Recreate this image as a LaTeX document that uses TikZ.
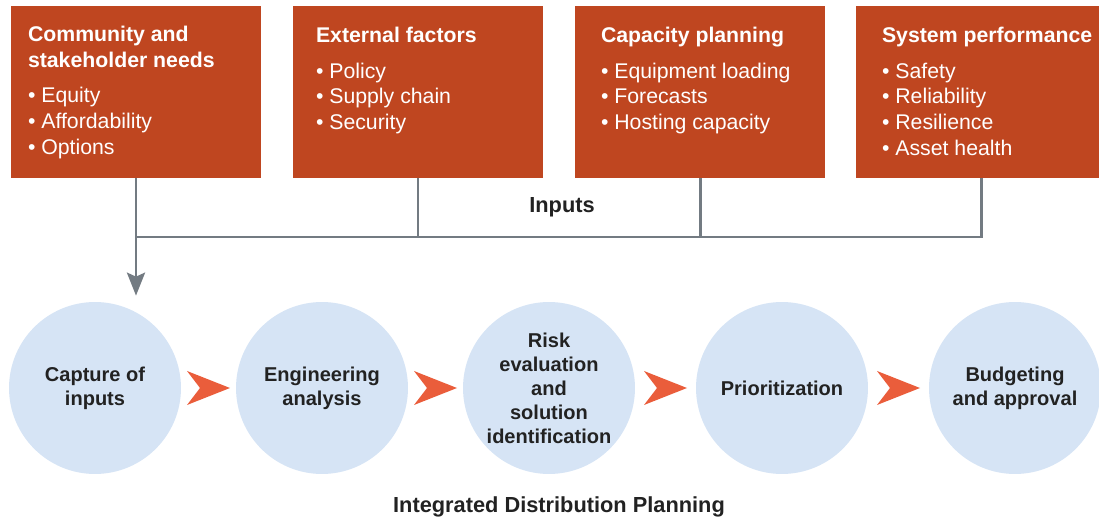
\documentclass[tikz,border=0pt]{standalone}
\usepackage{fontspec}
\setmainfont{Liberation Sans}
\usetikzlibrary{positioning,arrows.meta}

\definecolor{boxred}{HTML}{BF4620}
\definecolor{stagefill}{HTML}{D6E4F5}
\definecolor{chevred}{HTML}{EA5D3B}
\definecolor{feedgray}{HTML}{737B82}
\definecolor{inkdark}{HTML}{222222}

\begin{document}
\begin{tikzpicture}[x=0.02cm,y=-0.02cm,
    inbox/.style={fill=boxred, minimum width=5cm, minimum height=3.44cm, inner sep=0},
    boxtext/.style={anchor=north west, inner sep=0, align=left, text=white,
      font=\fontsize{12.1}{14.6}\selectfont},
    stage/.style={circle, fill=stagefill, minimum size=3.44cm, inner sep=0, align=center,
      text=inkdark, font=\bfseries\fontsize{11.4}{13.7}\selectfont},
    caption/.style={text=inkdark, font=\bfseries\fontsize{12.4}{14.5}\selectfont},
    feed/.style={draw=feedgray, line width=1.7pt},
    chevron/.pic={\fill[chevred] (-21.5,-17) -- (21.5,0) -- (-21.5,17) -- (-8.5,0) -- cycle;}
  ]
  \useasboundingbox (0,0) rectangle (1099,523);

  \node[inbox] (cns) at (136,92) {};
  \node[inbox] (ef) at (418,92) {};
  \node[inbox] (cp) at (700,92) {};
  \node[inbox] (sp) at (981,92) {};

  \node[boxtext] (cnst) at ([shift={(17,20)}]cns.north west)
    {\textbf{Community and}\\\textbf{stakeholder needs}\\[5.8pt]%
     • Equity\\• Affordability\\• Options};
  \node[boxtext] (eft) at ([shift={(23,21)}]ef.north west)
    {\textbf{External factors}\\[5.8pt]%
     • Policy\\• Supply chain\\• Security};
  \node[boxtext] (cpt) at ([shift={(26,21)}]cp.north west)
    {\textbf{Capacity planning}\\[5.8pt]%
     • Equipment loading\\• Forecasts\\• Hosting capacity};
  \node[boxtext] (spt) at ([shift={(26,21)}]sp.north west)
    {\textbf{System performance}\\[5.8pt]%
     • Safety\\• Reliability\\• Resilience\\• Asset health};

  \node[stage] (cap) at (95,388) {Capture of\\inputs};
  \node[stage] (eng) at (322,388) {Engineering\\analysis};
  \node[stage] (risk) at (549,388) {Risk\\evaluation\\and\\solution\\identification};
  \node[stage] (prio) at (782,388) {Prioritization};
  \node[stage] (bud) at (1015,388) {Budgeting\\and approval};

  \coordinate (bus) at (0,237);
  \coordinate (capin) at ([shift={(0,-6)}]cns.south |- cap.north);

  \draw[feed] (cns.south) -- (cns.south |- bus) -- (sp.south |- bus) -- (sp.south);
  \draw[feed] (ef.south) -- (ef.south |- bus);
  \draw[feed] (cp.south) -- (cp.south |- bus);
  \draw[feed, -{Stealth[length=0.46cm, width=0.36cm, inset=0.08cm]}] (cns.south |- bus) -- (capin);

  \node[caption] (inp) at (562,207) {Inputs};
  \node[caption] (idp) at (559,507) {Integrated Distribution Planning};

  \path (cap.east) -- coordinate[midway] (ar1) (eng.west);
  \path (eng.east) -- coordinate[midway] (ar2) (risk.west);
  \path (risk.east) -- coordinate[midway] (ar3) (prio.west);
  \path (prio.east) -- coordinate[midway] (ar4) (bud.west);
  \foreach \a in {ar1, ar2, ar3, ar4}
    \pic at (\a) {chevron};
\end{tikzpicture}
\end{document}
